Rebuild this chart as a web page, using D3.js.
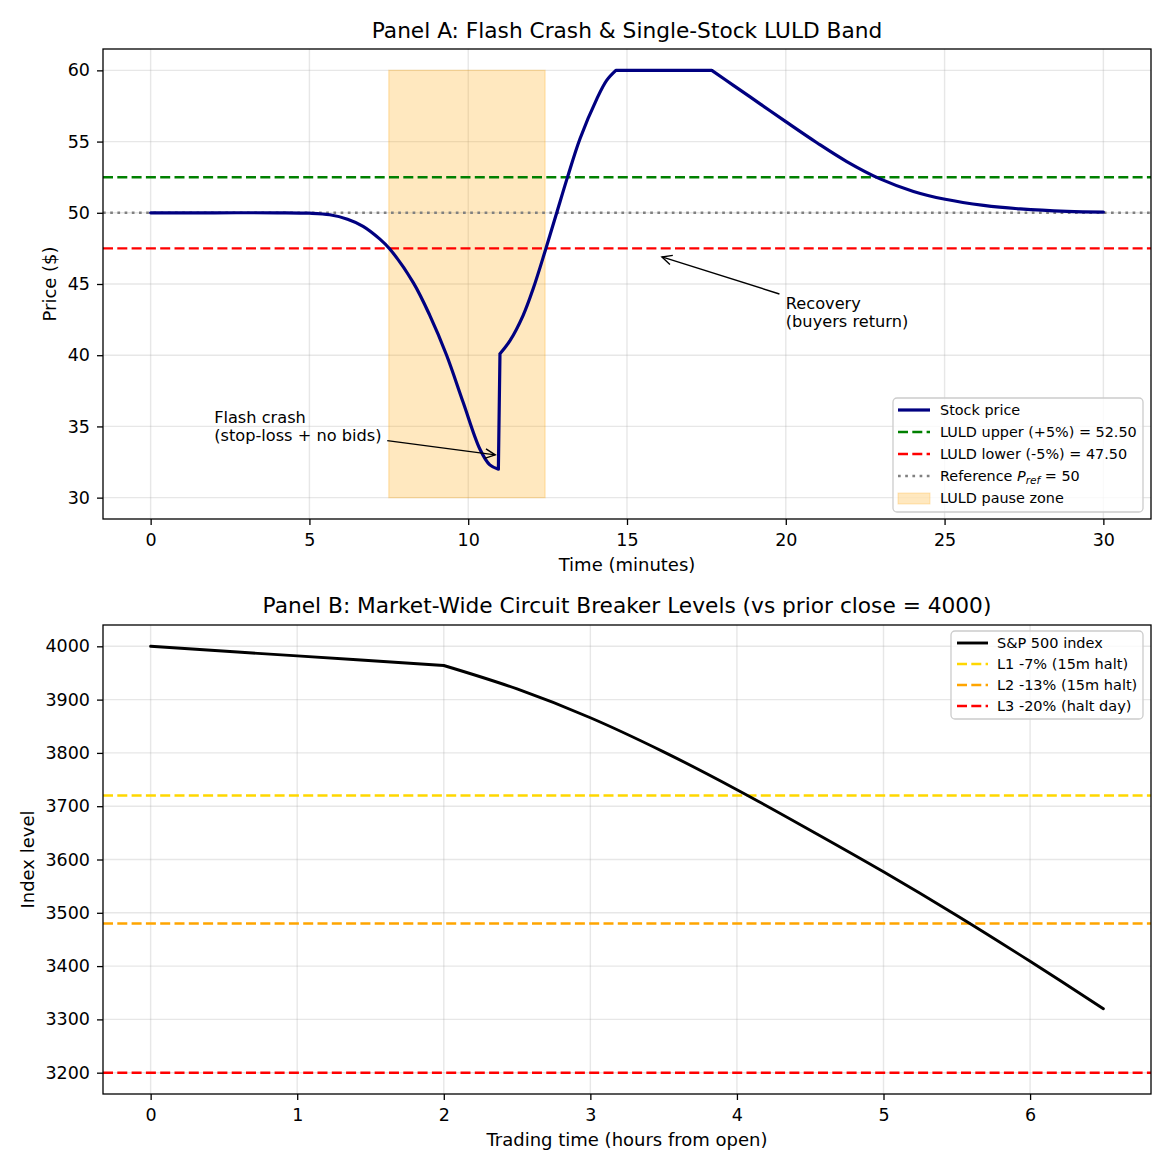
<!DOCTYPE html>
<html>
<head>
<meta charset="utf-8">
<script src="https://cdn.jsdelivr.net/npm/d3@7"></script>
<style>
  body { margin: 0; background: #fff; }
  svg { font-family: "DejaVu Sans", sans-serif; }
</style>
</head>
<body>
<svg id="chart" width="1170" height="1170"></svg>
<script>
// ---- data ----
const stockTime = [0, 2, 4, 5, 5.64, 6.2, 6.69, 7.22, 7.53, 8.27, 8.79, 9.32, 9.84, 10.37, 10.68, 10.95,
  11.0, 11.31, 11.73, 12.05, 12.42, 12.78, 13.12, 13.52, 14.05, 14.36, 14.65, 17.67, 18.35, 19.19, 20.0,
  20.98, 21.92, 22.97, 24.02, 25.02, 26.23, 27.39, 28.86, 30];
const stockPrice = [50, 50, 50, 49.97, 49.86, 49.55, 49.05, 48.15, 47.46, 45.1, 42.8, 40.0, 36.7, 33.4, 32.3, 32.0,
  40.1, 41.0, 42.8, 44.7, 47.3, 49.95, 52.45, 55.2, 58.0, 59.3, 60, 60, 58.95, 57.65, 56.4,
  54.92, 53.6, 52.38, 51.5, 50.95, 50.52, 50.27, 50.1, 50.05];
const stockKinks = [10.95, 11.0, 14.65, 17.67];   // corners in the price path
const refPrice = 50;
const luldUpper = 52.5;
const luldLower = 47.5;
const pauseZone = [7.5, 12.42];   // minutes
const pausePrice = [30, 60];
const minuteTicks = [0, 5, 10, 15, 20, 25, 30];
const priceTicks = [30, 35, 40, 45, 50, 55, 60];

const indexTime = [0, 1, 2, 2.5, 3, 3.5, 4, 4.5, 5, 5.5, 6, 6.5];
const indexLevel = [4000, 3982, 3964, 3920, 3866, 3802, 3731, 3655, 3577, 3495, 3409, 3320];
const indexKinks = [2];
const cbLevels = [
  { name: "L1 -7% (15m halt)", value: 3720, color: "#FFD700" },
  { name: "L2 -13% (15m halt)", value: 3480, color: "#FFA500" },
  { name: "L3 -20% (halt day)", value: 3200, color: "#FF0000" }
];
const hourTicks = [0, 1, 2, 3, 4, 5, 6];
const levelTicks = [3200, 3300, 3400, 3500, 3600, 3700, 3800, 3900, 4000];

const svg = d3.select("#chart");
const dash = "10,4.3";
const dot = "2.7,4.5";

// split a series at its corner points, each piece drawn smooth
function piecewisePath(xs, ys, kinks, x, y) {
  const pts = xs.map((t, i) => [t, ys[i]]);
  const pieces = [];
  let cur = [];
  pts.forEach(p => {
    cur.push(p);
    if (kinks.includes(p[0]) && cur.length > 1) { pieces.push(cur); cur = [p]; }
  });
  if (cur.length > 1) pieces.push(cur);
  const gen = d3.line().x(d => x(d[0])).y(d => y(d[1])).curve(d3.curveCatmullRom.alpha(0.5));
  return pieces.map(p => gen(p)).join("");
}

function frame(g, x, y, xt, yt, w, h) {
  g.append("g").selectAll("line").data(xt).join("line")
    .attr("x1", d => x(d)).attr("x2", d => x(d)).attr("y1", 0).attr("y2", h)
    .attr("stroke", "#b0b0b0").attr("stroke-opacity", 0.3).attr("stroke-width", 1.4);
  g.append("g").selectAll("line").data(yt).join("line")
    .attr("y1", d => y(d)).attr("y2", d => y(d)).attr("x1", 0).attr("x2", w)
    .attr("stroke", "#b0b0b0").attr("stroke-opacity", 0.3).attr("stroke-width", 1.4);
}

function axes(g, x, y, xt, yt, w, h) {
  const ax = g.append("g").attr("transform", `translate(0,${h})`)
    .call(d3.axisBottom(x).tickValues(xt).tickSize(6).tickPadding(9).tickFormat(d3.format("d")));
  const ay = g.append("g")
    .call(d3.axisLeft(y).tickValues(yt).tickSize(6).tickPadding(7).tickFormat(d3.format("d")));
  [ax, ay].forEach(a => {
    a.select(".domain").remove();
    a.selectAll("line").attr("stroke", "#000").attr("stroke-width", 1.3);
    a.selectAll("text").attr("font-family", "DejaVu Sans").attr("font-size", 17.5).attr("fill", "#000");
  });
  g.append("rect").attr("width", w).attr("height", h)
    .attr("fill", "none").attr("stroke", "#000").attr("stroke-width", 1.3);
}

function hline(g, y, v, w, color, pattern, width) {
  g.append("line").attr("x1", 0).attr("x2", w).attr("y1", y(v)).attr("y2", y(v))
    .attr("stroke", color).attr("stroke-width", width).attr("stroke-dasharray", pattern);
}

// ---------------- Panel A ----------------
{
  const left = 103, top = 49, w = 1151 - 103, h = 519 - 49;
  const g = svg.append("g").attr("transform", `translate(${left},${top})`);
  const x = d3.scaleLinear().domain([-1.5, 31.5]).range([0, w]);
  const y = d3.scaleLinear().domain([28.5, 61.5]).range([h, 0]);

  frame(g, x, y, minuteTicks, priceTicks, w, h);

  g.append("rect")
    .attr("x", x(pauseZone[0])).attr("width", x(pauseZone[1]) - x(pauseZone[0]))
    .attr("y", y(pausePrice[1])).attr("height", y(pausePrice[0]) - y(pausePrice[1]))
    .attr("fill", "#FFA500").attr("fill-opacity", 0.25)
    .attr("stroke", "#FFA500").attr("stroke-opacity", 0.25).attr("stroke-width", 1.3);

  hline(g, y, luldUpper, w, "#008000", dash, 2.4);
  hline(g, y, luldLower, w, "#FF0000", dash, 2.4);
  hline(g, y, refPrice, w, "#808080", dot, 2.6);

  g.append("path").attr("d", piecewisePath(stockTime, stockPrice, stockKinks, x, y))
    .attr("fill", "none").attr("stroke", "#000080").attr("stroke-width", 3.2)
    .attr("stroke-linejoin", "round").attr("stroke-linecap", "round");

  axes(g, x, y, minuteTicks, priceTicks, w, h);

  // annotations
  const ann = g.append("g").attr("font-size", 16.2).attr("fill", "#000");
  function arrow(x1, y1, x2, y2) {
    g.append("line").attr("x1", x1).attr("y1", y1).attr("x2", x2).attr("y2", y2)
      .attr("stroke", "#000").attr("stroke-width", 1.4);
    const a = Math.atan2(y2 - y1, x2 - x1), L = 11, s = 0.45;
    g.append("path")
      .attr("d", `M${x2 - L * Math.cos(a - s)},${y2 - L * Math.sin(a - s)} L${x2},${y2} L${x2 - L * Math.cos(a + s)},${y2 - L * Math.sin(a + s)}`)
      .attr("fill", "none").attr("stroke", "#000").attr("stroke-width", 1.4);
  }
  const crash = ann.append("text").attr("x", x(2)).attr("y", y(35.25));
  crash.append("tspan").attr("x", x(2)).text("Flash crash");
  crash.append("tspan").attr("x", x(2)).attr("dy", 18.5).text("(stop-loss + no bids)");
  arrow(x(7.45), y(34.0), x(10.85), y(33.0));

  const rec = ann.append("text").attr("x", x(20)).attr("y", y(43.25));
  rec.append("tspan").attr("x", x(20)).text("Recovery");
  rec.append("tspan").attr("x", x(20)).attr("dy", 18.5).text("(buyers return)");
  arrow(x(19.8), y(44.3), x(16.1), y(46.9));

  // legend
  const lg = g.append("g").attr("transform", `translate(${893 - left},${398 - top})`);
  lg.append("rect").attr("width", 250).attr("height", 114).attr("rx", 4)
    .attr("fill", "#fff").attr("fill-opacity", 0.8).attr("stroke", "#ccc").attr("stroke-width", 1.3);
  const items = [
    { type: "line", color: "#000080", pattern: null, w: 3.2 },
    { type: "line", color: "#008000", pattern: dash, w: 2.4 },
    { type: "line", color: "#FF0000", pattern: dash, w: 2.4 },
    { type: "line", color: "#808080", pattern: dot, w: 2.6 },
    { type: "patch" }
  ];
  const labels = ["Stock price", "LULD upper (+5%) = 52.50", "LULD lower (-5%) = 47.50", null, "LULD pause zone"];
  items.forEach((it, i) => {
    const cy = 12 + i * 22;
    if (it.type === "line") {
      lg.append("line").attr("x1", 5).attr("x2", 37).attr("y1", cy).attr("y2", cy)
        .attr("stroke", it.color).attr("stroke-width", it.w).attr("stroke-dasharray", it.pattern);
    } else {
      lg.append("rect").attr("x", 5).attr("y", cy - 5).attr("width", 32).attr("height", 11)
        .attr("fill", "#FFA500").attr("fill-opacity", 0.25)
        .attr("stroke", "#FFA500").attr("stroke-opacity", 0.25);
    }
    const t = lg.append("text").attr("x", 47).attr("y", cy + 5).attr("font-size", 14.4);
    if (labels[i]) t.text(labels[i]);
    else {
      t.append("tspan").text("Reference ");
      t.append("tspan").attr("font-style", "italic").text("P");
      t.append("tspan").attr("font-style", "italic").attr("font-size", 10.5).attr("dy", 3).text("ref");
      t.append("tspan").attr("dy", -3).text(" = 50");
    }
  });

  svg.append("text").attr("x", left + w / 2).attr("y", 38).attr("text-anchor", "middle")
    .attr("font-size", 21.7).text("Panel A: Flash Crash & Single-Stock LULD Band");
  svg.append("text").attr("x", left + w / 2).attr("y", 571).attr("text-anchor", "middle")
    .attr("font-size", 18).text("Time (minutes)");
  svg.append("text").attr("transform", `translate(56,${top + h / 2}) rotate(-90)`)
    .attr("text-anchor", "middle").attr("font-size", 18).text("Price ($)");
}

// ---------------- Panel B ----------------
{
  const left = 103, top = 625, w = 1151 - 103, h = 1094 - 625;
  const g = svg.append("g").attr("transform", `translate(${left},${top})`);
  const x = d3.scaleLinear().domain([-0.325, 6.825]).range([0, w]);
  const y = d3.scaleLinear().domain([3160, 4040]).range([h, 0]);

  frame(g, x, y, hourTicks, levelTicks, w, h);

  cbLevels.forEach(c => hline(g, y, c.value, w, c.color, dash, 2.4));

  g.append("path").attr("d", piecewisePath(indexTime, indexLevel, indexKinks, x, y))
    .attr("fill", "none").attr("stroke", "#000").attr("stroke-width", 2.9)
    .attr("stroke-linejoin", "round").attr("stroke-linecap", "round");

  axes(g, x, y, hourTicks, levelTicks, w, h);

  const lg = g.append("g").attr("transform", `translate(${951 - left},${631 - top})`);
  lg.append("rect").attr("width", 192).attr("height", 88).attr("rx", 4)
    .attr("fill", "#fff").attr("fill-opacity", 0.8).attr("stroke", "#ccc").attr("stroke-width", 1.3);
  const rows = [{ name: "S&P 500 index", color: "#000", pattern: null, w: 2.9 }]
    .concat(cbLevels.map(c => ({ name: c.name, color: c.color, pattern: dash, w: 2.4 })));
  rows.forEach((r, i) => {
    const cy = 12 + i * 21;
    lg.append("line").attr("x1", 6).attr("x2", 37).attr("y1", cy).attr("y2", cy)
      .attr("stroke", r.color).attr("stroke-width", r.w).attr("stroke-dasharray", r.pattern);
    lg.append("text").attr("x", 46).attr("y", cy + 5).attr("font-size", 14.5).text(r.name);
  });

  svg.append("text").attr("x", left + w / 2).attr("y", 613).attr("text-anchor", "middle")
    .attr("font-size", 21.7).text("Panel B: Market-Wide Circuit Breaker Levels (vs prior close = 4000)");
  svg.append("text").attr("x", left + w / 2).attr("y", 1146).attr("text-anchor", "middle")
    .attr("font-size", 18).text("Trading time (hours from open)");
  svg.append("text").attr("transform", `translate(34,${top + h / 2}) rotate(-90)`)
    .attr("text-anchor", "middle").attr("font-size", 18).text("Index level");
}
</script>
</body>
</html>
